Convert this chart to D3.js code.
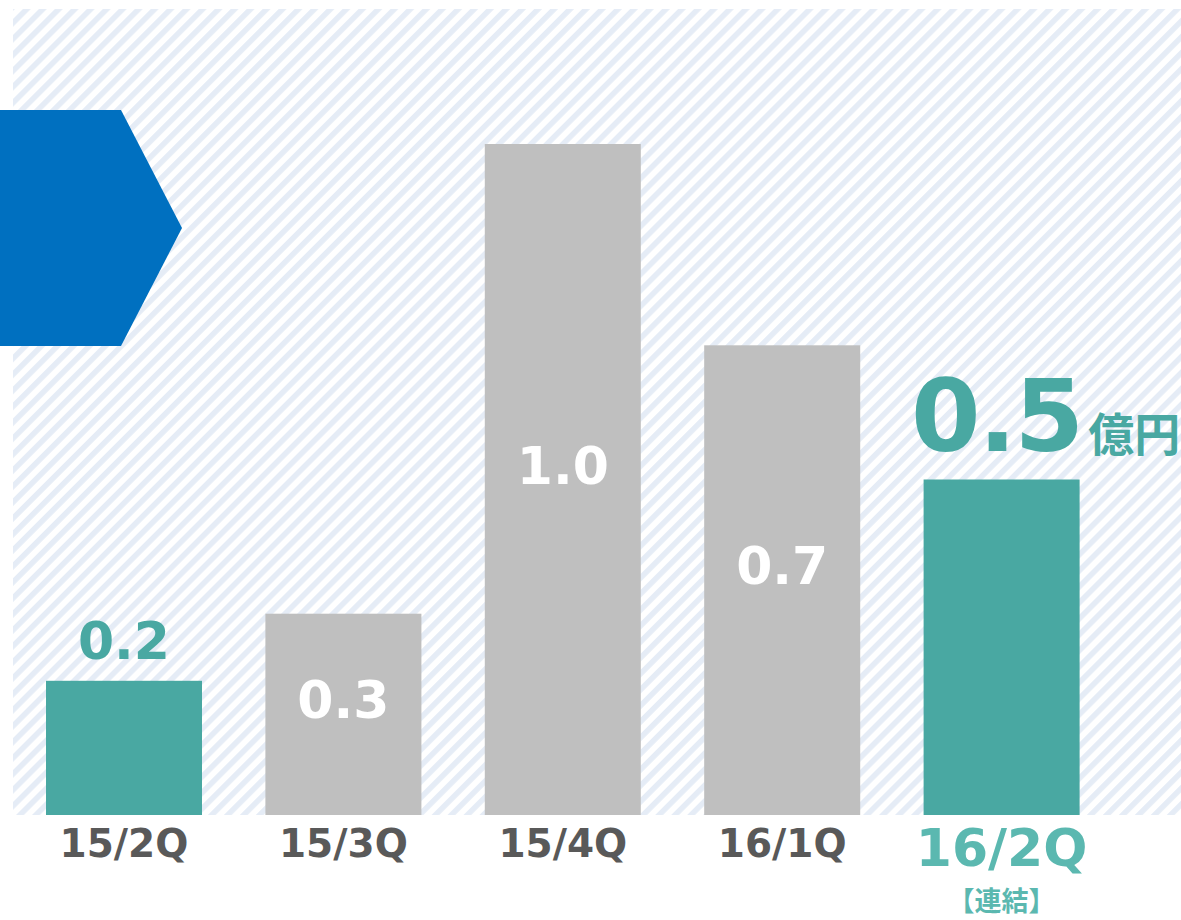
<!DOCTYPE html>
<html><head><meta charset="utf-8">
<script src="https://cdn.jsdelivr.net/npm/d3@7"></script>
<style>html,body{margin:0;padding:0;background:#fff;}svg{display:block;}</style>
</head><body>
<svg id="c" width="1181" height="920"></svg>
<script>
const categories = ["15/2Q","15/3Q","15/4Q","16/1Q","16/2Q"];
const values = [0.2, 0.3, 1.0, 0.7, 0.5];
const valueLabels = ["0.2","0.3","1.0","0.7","0.5"];
const highlighted = [true, false, false, false, true];
const unitLabel = "億円";
const subLabel = "【連結】";

const svg = d3.select("#c");
const W = 1181, H = 920;
const base = 815, topY = 144;
const teal = "#49A8A2", gray = "#BFBFBF", lightTeal = "#5BB8B0", textGray = "#595959";

const defs = svg.append("defs");
const pat = defs.append("pattern").attr("id","hatch").attr("patternUnits","userSpaceOnUse")
  .attr("width",11.3).attr("height",11.3).attr("patternTransform","rotate(45)");
pat.append("rect").attr("width",11.3).attr("height",11.3).attr("fill","#fff");
pat.append("rect").attr("width",5.5).attr("height",11.3).attr("fill","#e5ecf6");

svg.append("rect").attr("x",13).attr("y",9).attr("width",W-13).attr("height",base-9).attr("fill","url(#hatch)");

// blue pentagon arrow
svg.append("path").attr("d","M0,110 L121,110 L182,228 L121,346 L0,346 Z").attr("fill","#0070C0");

const step = 219.4, bw = 156;
const pIn = (step - bw) / step;
const x = d3.scaleBand().domain(categories)
  .range([46 - (step - bw)/2, 46 - (step - bw)/2 + step*categories.length])
  .paddingInner(pIn).paddingOuter(pIn/2);
const y = d3.scaleLinear().domain([0, 1.0]).range([base, topY]);

const data = categories.map((c,i)=>({c, v:values[i], l:valueLabels[i], h:highlighted[i], i}));

svg.selectAll("rect.bar").data(data).join("rect").attr("class","bar")
  .attr("x",d=>x(d.c)).attr("width",x.bandwidth())
  .attr("y",d=>y(d.v)).attr("height",d=>base-y(d.v))
  .attr("fill",d=>d.h?teal:gray);

const font = "'DejaVu Sans', Verdana, sans-serif";
// value labels
data.forEach((d,i)=>{
  const cx = x(d.c) + x.bandwidth()/2;
  if (i === 0) {
    svg.append("text").attr("x",cx).attr("y",y(d.v)-22).attr("text-anchor","middle")
      .attr("font-family",font).attr("font-weight","bold").attr("font-size",52)
      .attr("fill",teal).text(d.l);
  } else if (i === categories.length-1) {
    const t = svg.append("text").attr("x",911).attr("y",y(d.v)-29)
      .attr("font-family",font).attr("font-weight","bold").attr("fill",teal);
    t.append("tspan").attr("font-size",100).attr("letter-spacing",-2).text(d.l);
    t.append("tspan").attr("font-size",46).attr("dx",6)
      .attr("font-family","'Noto Sans CJK JP', sans-serif").text(unitLabel);
  } else {
    const mid = (y(d.v)+base)/2;
    svg.append("text").attr("x",cx).attr("y",mid+4).attr("text-anchor","middle")
      .attr("font-family",font).attr("font-weight","bold").attr("font-size",52)
      .attr("fill","#fff").text(d.l);
  }
});

// category labels
data.forEach((d,i)=>{
  const cx = x(d.c) + x.bandwidth()/2;
  if (i === categories.length-1) {
    svg.append("text").attr("x",cx).attr("y",866).attr("text-anchor","middle")
      .attr("font-family",font).attr("font-weight","bold").attr("font-size",52)
      .attr("fill",lightTeal).text(d.c);
    svg.append("text").attr("x",cx).attr("y",911).attr("text-anchor","middle")
      .attr("font-family","'Noto Sans CJK JP', sans-serif").attr("font-weight","bold").attr("font-size",27)
      .attr("fill",lightTeal).text(subLabel);
  } else {
    svg.append("text").attr("x",cx).attr("y",857).attr("text-anchor","middle")
      .attr("font-family",font).attr("font-weight","bold").attr("font-size",39)
      .attr("fill",textGray).text(d.c);
  }
});
</script>
</body></html>
